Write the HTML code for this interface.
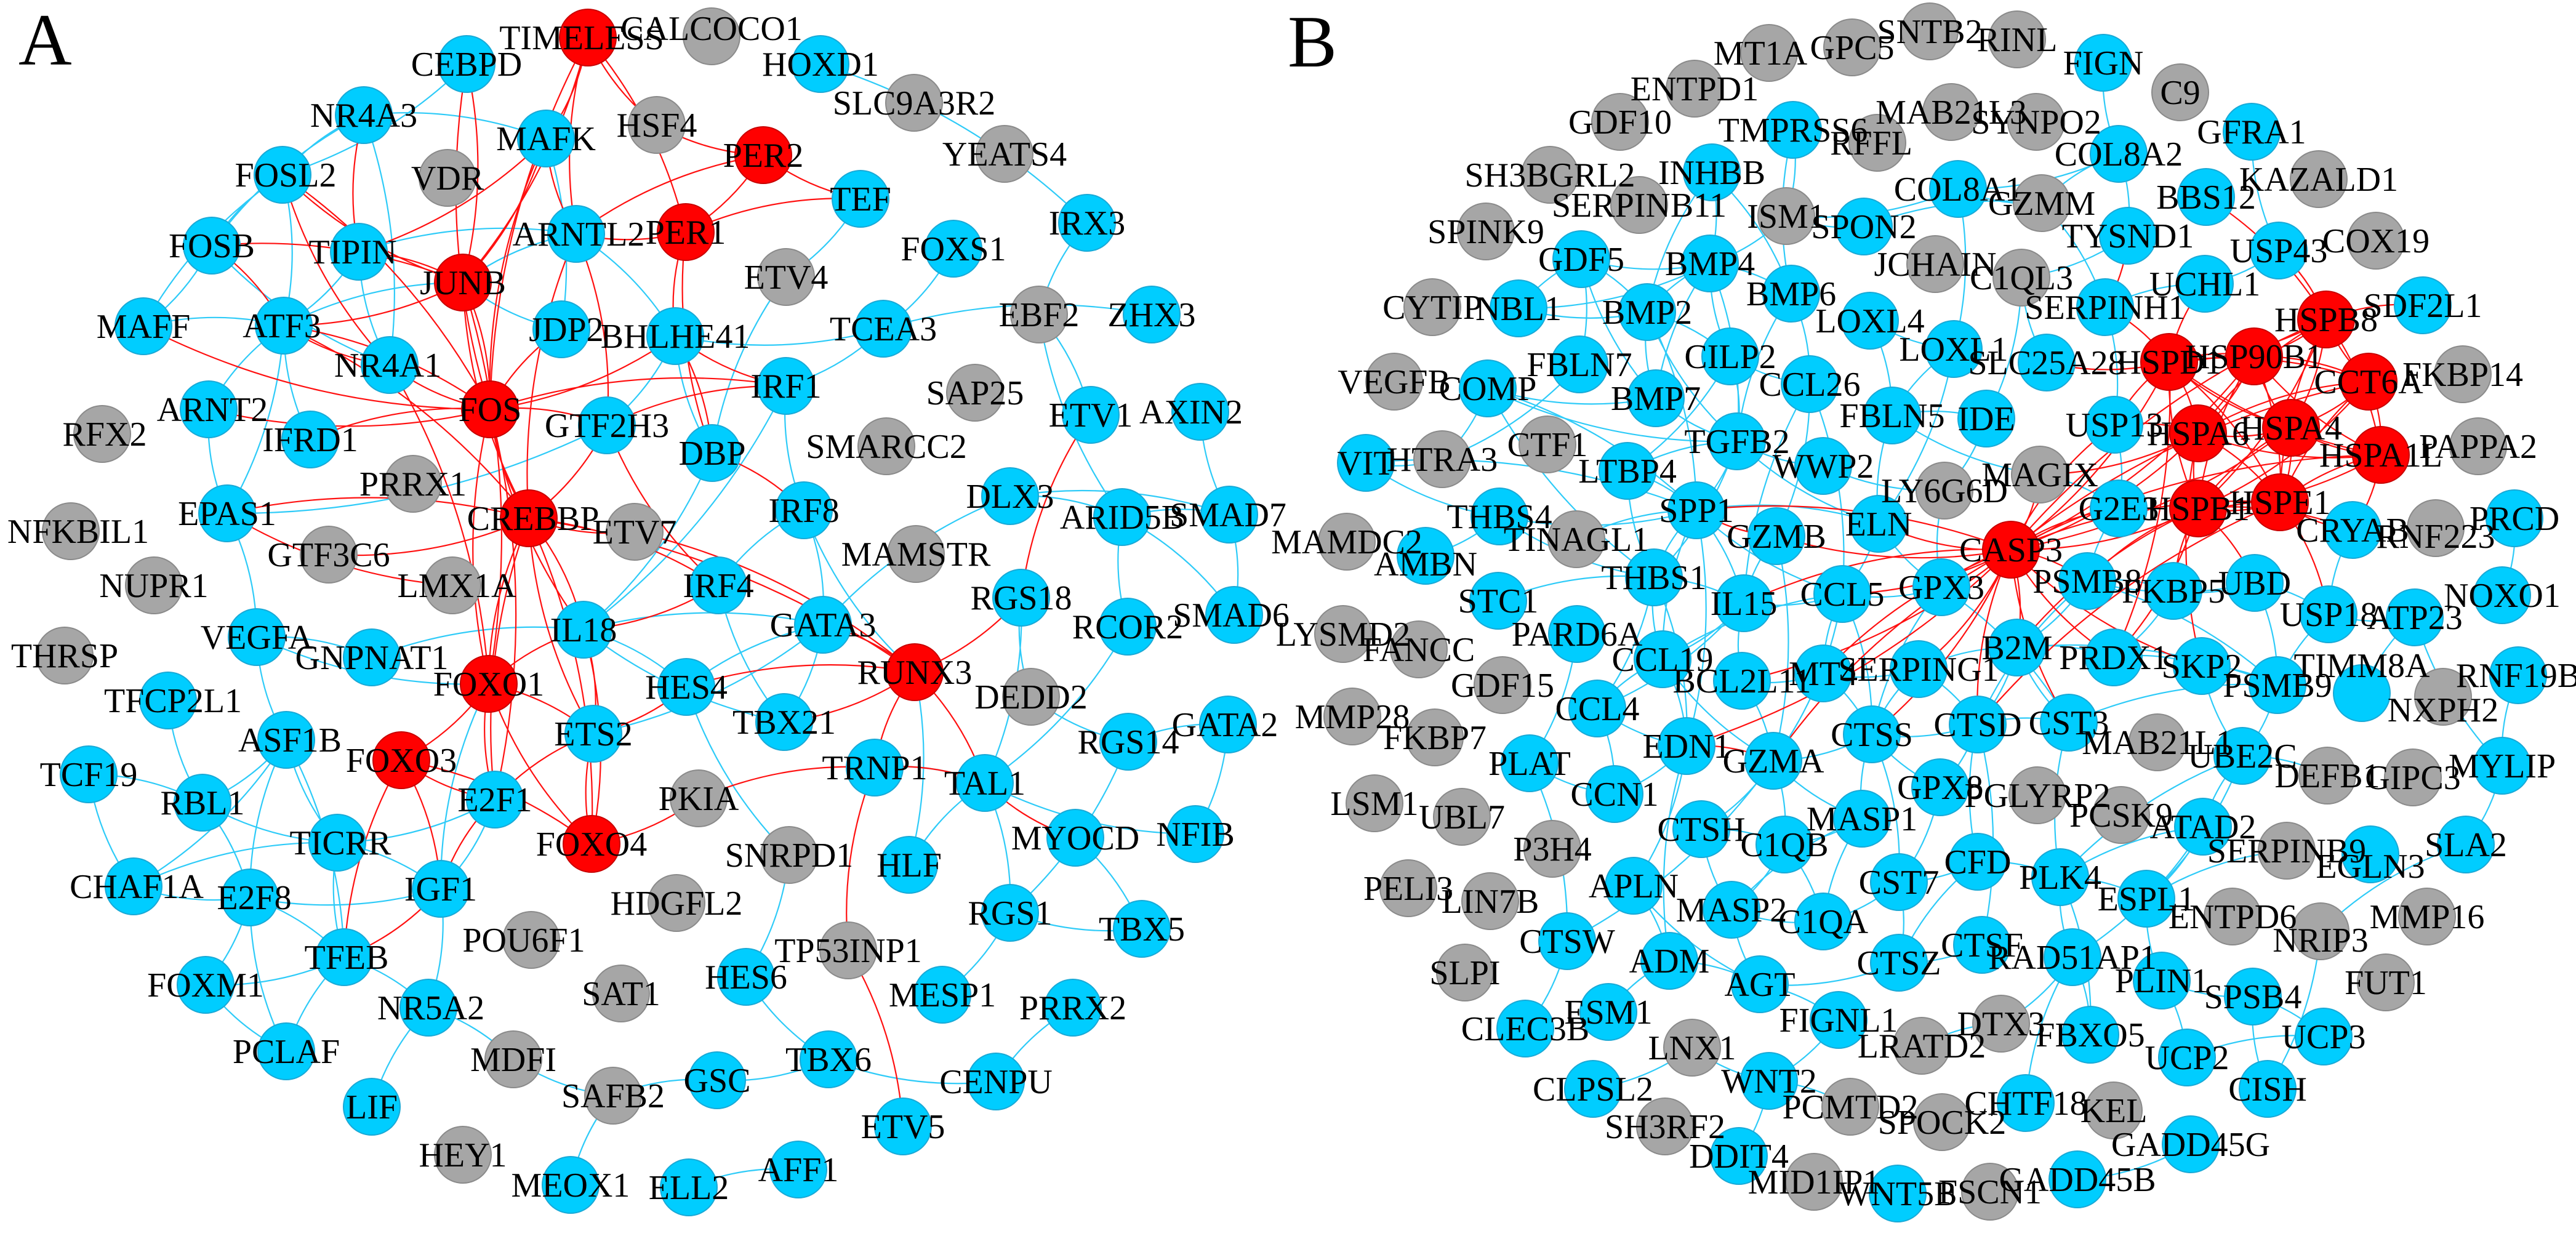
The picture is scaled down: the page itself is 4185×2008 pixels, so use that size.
<!DOCTYPE html>
<html><head><meta charset="utf-8"><style>
html,body{margin:0;padding:0;background:#fff;width:4185px;height:2008px;overflow:hidden}
svg{display:block}
svg text{font-family:"Liberation Serif","Times New Roman","DejaVu Serif",serif;font-size:56px;fill:#000;text-anchor:middle}
circle.b{fill:#00CDFF;stroke:#19a9d6;stroke-width:2}
circle.r{fill:#FF0000;stroke:#c80000;stroke-width:2}
circle.g{fill:#A6A6A6;stroke:#8a8a8a;stroke-width:2}
path.eb{stroke:#2ECBF8;stroke-width:2.2;fill:none}
path.er{stroke:#FF1010;stroke-width:2.2;fill:none}
svg text.big{font-size:120px;text-anchor:start}
</style></head><body>
<svg id="s" width="4185" height="2008" viewBox="0 0 4185 2008" xmlns="http://www.w3.org/2000/svg" font-family="Liberation Serif, serif">
<g id="edges"></g>
<g id="nodes">
<circle id="TIMELESS" class="r" cx="955" cy="61" r="46"/>
<circle id="CEBPD" class="b" cx="758" cy="104" r="46"/>
<circle id="NR4A3" class="b" cx="591" cy="187" r="46"/>
<circle id="MAFK" class="b" cx="887" cy="225" r="46"/>
<circle id="VDR" class="g" cx="727" cy="289" r="46"/>
<circle id="FOSL2" class="b" cx="459" cy="284" r="46"/>
<circle id="FOSB" class="b" cx="344" cy="399" r="46"/>
<circle id="ARNTL2" class="b" cx="936" cy="380" r="46"/>
<circle id="TIPIN" class="b" cx="583" cy="409" r="46"/>
<circle id="JUNB" class="r" cx="752" cy="459" r="46"/>
<circle id="MAFF" class="b" cx="233" cy="530" r="46"/>
<circle id="ATF3" class="b" cx="461" cy="529" r="46"/>
<circle id="JDP2" class="b" cx="912" cy="535" r="46"/>
<circle id="NR4A1" class="b" cx="633" cy="593" r="46"/>
<circle id="ARNT2" class="b" cx="339" cy="665" r="46"/>
<circle id="FOS" class="r" cx="796" cy="665" r="46"/>
<circle id="IFRD1" class="b" cx="504" cy="714" r="46"/>
<circle id="RFX2" class="g" cx="166" cy="705" r="46"/>
<circle id="PRRX1" class="g" cx="671" cy="786" r="46"/>
<circle id="EPAS1" class="b" cx="369" cy="834" r="46"/>
<circle id="NFKBIL1" class="g" cx="115" cy="863" r="46"/>
<circle id="CREBBP" class="r" cx="859" cy="842" r="46"/>
<circle id="GTF3C6" class="g" cx="534" cy="901" r="46"/>
<circle id="NUPR1" class="g" cx="250" cy="951" r="46"/>
<circle id="LMX1A" class="g" cx="735" cy="951" r="46"/>
<circle id="GTF2H3" class="b" cx="986" cy="691" r="46"/>
<circle id="CALCOCO1" class="g" cx="1156" cy="59" r="46"/>
<circle id="HOXD1" class="b" cx="1333" cy="104" r="46"/>
<circle id="SLC9A3R2" class="g" cx="1485" cy="167" r="46"/>
<circle id="HSF4" class="g" cx="1067" cy="203" r="46"/>
<circle id="YEATS4" class="g" cx="1632" cy="250" r="46"/>
<circle id="PER2" class="r" cx="1240" cy="252" r="46"/>
<circle id="TEF" class="b" cx="1398" cy="323" r="46"/>
<circle id="PER1" class="r" cx="1114" cy="377" r="46"/>
<circle id="IRX3" class="b" cx="1766" cy="362" r="46"/>
<circle id="FOXS1" class="b" cx="1549" cy="404" r="46"/>
<circle id="ETV4" class="g" cx="1277" cy="450" r="46"/>
<circle id="BHLHE41" class="b" cx="1097" cy="546" r="46"/>
<circle id="TCEA3" class="b" cx="1435" cy="534" r="46"/>
<circle id="EBF2" class="g" cx="1688" cy="511" r="46"/>
<circle id="ZHX3" class="b" cx="1871" cy="511" r="46"/>
<circle id="IRF1" class="b" cx="1277" cy="627" r="46"/>
<circle id="SAP25" class="g" cx="1584" cy="638" r="46"/>
<circle id="ETV1" class="b" cx="1772" cy="674" r="46"/>
<circle id="AXIN2" class="b" cx="1950" cy="669" r="46"/>
<circle id="SMARCC2" class="g" cx="1440" cy="725" r="46"/>
<circle id="DBP" class="b" cx="1157" cy="736" r="46"/>
<circle id="DLX3" class="b" cx="1641" cy="806" r="46"/>
<circle id="IRF8" class="b" cx="1306" cy="829" r="46"/>
<circle id="ARID5B" class="b" cx="1823" cy="840" r="46"/>
<circle id="SMAD7" class="b" cx="1997" cy="836" r="46"/>
<circle id="ETV7" class="g" cx="1031" cy="864" r="46"/>
<circle id="MAMSTR" class="g" cx="1488" cy="900" r="46"/>
<circle id="IRF4" class="b" cx="1167" cy="951" r="46"/>
<circle id="RGS18" class="b" cx="1659" cy="971" r="46"/>
<circle id="SMAD6" class="b" cx="2005" cy="999" r="46"/>
<circle id="IL18" class="b" cx="948" cy="1023" r="46"/>
<circle id="GATA3" class="b" cx="1337" cy="1015" r="46"/>
<circle id="RCOR2" class="b" cx="1832" cy="1018" r="46"/>
<circle id="RUNX3" class="r" cx="1486" cy="1092" r="46"/>
<circle id="DEDD2" class="g" cx="1675" cy="1132" r="46"/>
<circle id="HES4" class="b" cx="1115" cy="1116" r="46"/>
<circle id="TBX21" class="b" cx="1274" cy="1173" r="46"/>
<circle id="ETS2" class="b" cx="964" cy="1192" r="46"/>
<circle id="RGS14" class="b" cx="1833" cy="1205" r="46"/>
<circle id="GATA2" class="b" cx="1995" cy="1177" r="46"/>
<circle id="TRNP1" class="b" cx="1421" cy="1247" r="46"/>
<circle id="TAL1" class="b" cx="1600" cy="1272" r="46"/>
<circle id="PKIA" class="g" cx="1135" cy="1297" r="46"/>
<circle id="FOXO4" class="r" cx="961" cy="1371" r="46"/>
<circle id="MYOCD" class="b" cx="1747" cy="1361" r="46"/>
<circle id="NFIB" class="b" cx="1942" cy="1355" r="46"/>
<circle id="SNRPD1" class="g" cx="1282" cy="1389" r="46"/>
<circle id="HLF" class="b" cx="1477" cy="1405" r="46"/>
<circle id="HDGFL2" class="g" cx="1099" cy="1467" r="46"/>
<circle id="RGS1" class="b" cx="1641" cy="1483" r="46"/>
<circle id="TBX5" class="b" cx="1855" cy="1509" r="46"/>
<circle id="TP53INP1" class="g" cx="1378" cy="1544" r="46"/>
<circle id="SAT1" class="g" cx="1009" cy="1614" r="46"/>
<circle id="HES6" class="b" cx="1212" cy="1587" r="46"/>
<circle id="MESP1" class="b" cx="1531" cy="1616" r="46"/>
<circle id="PRRX2" class="b" cx="1743" cy="1637" r="46"/>
<circle id="TBX6" class="b" cx="1346" cy="1721" r="46"/>
<circle id="GSC" class="b" cx="1165" cy="1755" r="46"/>
<circle id="SAFB2" class="g" cx="996" cy="1780" r="46"/>
<circle id="CENPU" class="b" cx="1618" cy="1757" r="46"/>
<circle id="ETV5" class="b" cx="1467" cy="1830" r="46"/>
<circle id="AFF1" class="b" cx="1297" cy="1900" r="46"/>
<circle id="ELL2" class="b" cx="1119" cy="1929" r="46"/>
<circle id="MEOX1" class="b" cx="927" cy="1925" r="46"/>
<circle id="THRSP" class="g" cx="105" cy="1065" r="46"/>
<circle id="VEGFA" class="b" cx="417" cy="1035" r="46"/>
<circle id="GNPNAT1" class="b" cx="604" cy="1068" r="46"/>
<circle id="FOXO1" class="r" cx="794" cy="1111" r="46"/>
<circle id="TFCP2L1" class="b" cx="273" cy="1138" r="46"/>
<circle id="ASF1B" class="b" cx="465" cy="1202" r="46"/>
<circle id="TCF19" class="b" cx="144" cy="1258" r="46"/>
<circle id="FOXO3" class="r" cx="652" cy="1235" r="46"/>
<circle id="RBL1" class="b" cx="329" cy="1304" r="46"/>
<circle id="E2F1" class="b" cx="804" cy="1299" r="46"/>
<circle id="TICRR" class="b" cx="548" cy="1369" r="46"/>
<circle id="CHAF1A" class="b" cx="217" cy="1440" r="46"/>
<circle id="E2F8" class="b" cx="406" cy="1458" r="46"/>
<circle id="IGF1" class="b" cx="716" cy="1444" r="46"/>
<circle id="POU6F1" class="g" cx="863" cy="1527" r="46"/>
<circle id="TFEB" class="b" cx="559" cy="1555" r="46"/>
<circle id="FOXM1" class="b" cx="334" cy="1600" r="46"/>
<circle id="NR5A2" class="b" cx="696" cy="1637" r="46"/>
<circle id="PCLAF" class="b" cx="465" cy="1708" r="46"/>
<circle id="MDFI" class="g" cx="834" cy="1721" r="46"/>
<circle id="LIF" class="b" cx="604" cy="1798" r="46"/>
<circle id="HEY1" class="g" cx="752" cy="1876" r="46"/>

<circle id="MT1A" class="g" cx="2874" cy="86" r="46"/>
<circle id="GPC5" class="g" cx="3009" cy="77" r="46"/>
<circle id="ENTPD1" class="g" cx="2753" cy="144" r="46"/>
<circle id="GDF10" class="g" cx="2632" cy="198" r="46"/>
<circle id="TMPRSS6" class="b" cx="2913" cy="211" r="46"/>
<circle id="RFFL" class="g" cx="3050" cy="232" r="46"/>
<circle id="SH3BGRL2" class="g" cx="2518" cy="284" r="46"/>
<circle id="INHBB" class="b" cx="2781" cy="280" r="46"/>
<circle id="SERPINB11" class="g" cx="2663" cy="333" r="46"/>
<circle id="ISM1" class="g" cx="2902" cy="351" r="46"/>
<circle id="SPINK9" class="g" cx="2414" cy="376" r="46"/>
<circle id="GDF5" class="b" cx="2569" cy="421" r="46"/>
<circle id="BMP4" class="b" cx="2778" cy="428" r="46"/>
<circle id="BMP6" class="b" cx="2910" cy="477" r="46"/>
<circle id="CYTIP" class="g" cx="2327" cy="499" r="46"/>
<circle id="NBL1" class="b" cx="2467" cy="501" r="46"/>
<circle id="BMP2" class="b" cx="2676" cy="507" r="46"/>
<circle id="CILP2" class="b" cx="2811" cy="579" r="46"/>
<circle id="FBLN7" class="b" cx="2566" cy="592" r="46"/>
<circle id="CCL26" class="b" cx="2940" cy="624" r="46"/>
<circle id="VEGFB" class="g" cx="2265" cy="620" r="46"/>
<circle id="COMP" class="b" cx="2417" cy="631" r="46"/>
<circle id="BMP7" class="b" cx="2690" cy="647" r="46"/>
<circle id="TGFB2" class="b" cx="2822" cy="717" r="46"/>
<circle id="CTF1" class="g" cx="2514" cy="722" r="46"/>
<circle id="VIT" class="b" cx="2219" cy="752" r="46"/>
<circle id="HTRA3" class="g" cx="2343" cy="746" r="46"/>
<circle id="WWP2" class="b" cx="2962" cy="757" r="46"/>
<circle id="LTBP4" class="b" cx="2644" cy="765" r="46"/>
<circle id="SPP1" class="b" cx="2756" cy="829" r="46"/>
<circle id="THBS4" class="b" cx="2436" cy="839" r="46"/>
<circle id="GZMB" class="b" cx="2886" cy="871" r="46"/>
<circle id="TINAGL1" class="g" cx="2561" cy="876" r="46"/>
<circle id="MAMDC2" class="g" cx="2188" cy="880" r="46"/>
<circle id="AMBN" class="b" cx="2316" cy="903" r="46"/>
<circle id="THBS1" class="b" cx="2687" cy="938" r="46"/>
<circle id="IL15" class="b" cx="2833" cy="980" r="46"/>
<circle id="STC1" class="b" cx="2434" cy="976" r="46"/>
<circle id="CCL5" class="b" cx="2993" cy="965" r="46"/>
<circle id="LYSMD2" class="g" cx="2182" cy="1030" r="46"/>
<circle id="PARD6A" class="b" cx="2562" cy="1030" r="46"/>
<circle id="FANCC" class="g" cx="2305" cy="1055" r="46"/>
<circle id="CCL19" class="b" cx="2701" cy="1071" r="46"/>
<circle id="GDF15" class="g" cx="2441" cy="1113" r="46"/>
<circle id="BCL2L11" class="b" cx="2830" cy="1106" r="46"/>
<circle id="MT4" class="b" cx="2962" cy="1094" r="46"/>
<circle id="MMP28" class="g" cx="2197" cy="1164" r="46"/>
<circle id="CCL4" class="b" cx="2595" cy="1151" r="46"/>
<circle id="FKBP7" class="g" cx="2331" cy="1198" r="46"/>
<circle id="EDN1" class="b" cx="2740" cy="1212" r="46"/>
<circle id="PLAT" class="b" cx="2485" cy="1240" r="46"/>
<circle id="GZMA" class="b" cx="2881" cy="1236" r="46"/>
<circle id="CCN1" class="b" cx="2623" cy="1290" r="46"/>
<circle id="LSM1" class="g" cx="2233" cy="1305" r="46"/>
<circle id="UBL7" class="g" cx="2375" cy="1327" r="46"/>
<circle id="CTSH" class="b" cx="2764" cy="1347" r="46"/>
<circle id="C1QB" class="b" cx="2899" cy="1372" r="46"/>
<circle id="P3H4" class="g" cx="2522" cy="1379" r="46"/>
<circle id="PELI3" class="g" cx="2288" cy="1443" r="46"/>
<circle id="APLN" class="b" cx="2654" cy="1439" r="46"/>
<circle id="LIN7B" class="g" cx="2421" cy="1464" r="46"/>
<circle id="MASP2" class="b" cx="2813" cy="1478" r="46"/>
<circle id="C1QA" class="b" cx="2962" cy="1497" r="46"/>
<circle id="MASP1" class="b" cx="3025" cy="1330" r="46"/>
<circle id="CTSW" class="b" cx="2546" cy="1529" r="46"/>
<circle id="SLPI" class="g" cx="2380" cy="1580" r="46"/>
<circle id="ADM" class="b" cx="2712" cy="1561" r="46"/>
<circle id="AGT" class="b" cx="2859" cy="1599" r="46"/>
<circle id="ESM1" class="b" cx="2613" cy="1644" r="46"/>
<circle id="CLEC3B" class="b" cx="2478" cy="1671" r="46"/>
<circle id="FIGNL1" class="b" cx="2987" cy="1657" r="46"/>
<circle id="LNX1" class="g" cx="2749" cy="1702" r="46"/>
<circle id="WNT2" class="b" cx="2874" cy="1756" r="46"/>
<circle id="CLPSL2" class="b" cx="2588" cy="1769" r="46"/>
<circle id="PCMTD2" class="g" cx="3006" cy="1798" r="46"/>
<circle id="SH3RF2" class="g" cx="2705" cy="1830" r="46"/>
<circle id="DDIT4" class="b" cx="2825" cy="1878" r="46"/>
<circle id="MID1IP1" class="g" cx="2947" cy="1920" r="46"/>
<circle id="SNTB2" class="g" cx="3135" cy="51" r="46"/>
<circle id="RINL" class="g" cx="3277" cy="64" r="46"/>
<circle id="FIGN" class="b" cx="3417" cy="102" r="46"/>
<circle id="C9" class="g" cx="3542" cy="150" r="46"/>
<circle id="MAB21L3" class="g" cx="3170" cy="182" r="46"/>
<circle id="SYNPO2" class="g" cx="3308" cy="198" r="46"/>
<circle id="GFRA1" class="b" cx="3658" cy="214" r="46"/>
<circle id="COL8A2" class="b" cx="3442" cy="250" r="46"/>
<circle id="COL8A1" class="b" cx="3181" cy="307" r="46"/>
<circle id="GZMM" class="g" cx="3317" cy="330" r="46"/>
<circle id="KAZALD1" class="g" cx="3767" cy="291" r="46"/>
<circle id="BBS12" class="b" cx="3584" cy="320" r="46"/>
<circle id="TYSND1" class="b" cx="3457" cy="383" r="46"/>
<circle id="COX19" class="g" cx="3860" cy="391" r="46"/>
<circle id="USP43" class="b" cx="3702" cy="407" r="46"/>
<circle id="SPON2" class="b" cx="3028" cy="368" r="46"/>
<circle id="JCHAIN" class="g" cx="3144" cy="429" r="46"/>
<circle id="C1QL3" class="g" cx="3284" cy="451" r="46"/>
<circle id="UCHL1" class="b" cx="3582" cy="461" r="46"/>
<circle id="SERPINH1" class="b" cx="3420" cy="499" r="46"/>
<circle id="SDF2L1" class="b" cx="3936" cy="496" r="46"/>
<circle id="LOXL4" class="b" cx="3038" cy="521" r="46"/>
<circle id="LOXL1" class="b" cx="3174" cy="567" r="46"/>
<circle id="SLC25A28" class="b" cx="3325" cy="589" r="46"/>
<circle id="FKBP14" class="g" cx="4001" cy="608" r="46"/>
<circle id="FBLN5" class="b" cx="3074" cy="675" r="46"/>
<circle id="IDE" class="b" cx="3227" cy="680" r="46"/>
<circle id="USP13" class="b" cx="3435" cy="690" r="46"/>
<circle id="PAPPA2" class="g" cx="4026" cy="725" r="46"/>
<circle id="MAGIX" class="g" cx="3314" cy="771" r="46"/>
<circle id="LY6G6D" class="g" cx="3159" cy="797" r="46"/>
<circle id="G2E3" class="b" cx="3442" cy="826" r="46"/>
<circle id="CRYAB" class="b" cx="3822" cy="861" r="46"/>
<circle id="RNF223" class="g" cx="3957" cy="858" r="46"/>
<circle id="PRCD" class="b" cx="4085" cy="842" r="46"/>
<circle id="ELN" class="b" cx="3052" cy="851" r="46"/>
<circle id="GPX3" class="b" cx="3154" cy="954" r="46"/>
<circle id="PSMB8" class="b" cx="3391" cy="944" r="46"/>
<circle id="FKBP5" class="b" cx="3531" cy="960" r="46"/>
<circle id="UBD" class="b" cx="3663" cy="947" r="46"/>
<circle id="NOXO1" class="b" cx="4065" cy="967" r="46"/>
<circle id="USP18" class="b" cx="3783" cy="998" r="46"/>
<circle id="ATP23" class="b" cx="3923" cy="1003" r="46"/>
<circle id="B2M" class="b" cx="3277" cy="1052" r="46"/>
<circle id="SERPING1" class="b" cx="3117" cy="1087" r="46"/>
<circle id="PRDX1" class="b" cx="3434" cy="1068" r="46"/>
<circle id="SKP2" class="b" cx="3577" cy="1082" r="46"/>
<circle id="PSMB9" class="b" cx="3700" cy="1113" r="46"/>
<circle id="TIMM8A" class="b" cx="3837" cy="1126" r="46"/>
<circle id="NXPH2" class="g" cx="3969" cy="1132" r="46"/>
<circle id="RNF19B" class="b" cx="4091" cy="1097" r="46"/>
<circle id="CTSS" class="b" cx="3041" cy="1193" r="46"/>
<circle id="CTSD" class="b" cx="3213" cy="1177" r="46"/>
<circle id="CST3" class="b" cx="3361" cy="1174" r="46"/>
<circle id="MAB21L1" class="g" cx="3505" cy="1206" r="46"/>
<circle id="UBE2C" class="b" cx="3643" cy="1228" r="46"/>
<circle id="DEFB1" class="g" cx="3781" cy="1260" r="46"/>
<circle id="GIPC3" class="g" cx="3920" cy="1263" r="46"/>
<circle id="MYLIP" class="b" cx="4065" cy="1244" r="46"/>
<circle id="GPX8" class="b" cx="3152" cy="1279" r="46"/>
<circle id="PGLYRP2" class="g" cx="3310" cy="1292" r="46"/>
<circle id="PCSK9" class="g" cx="3446" cy="1324" r="46"/>
<circle id="ATAD2" class="b" cx="3579" cy="1343" r="46"/>
<circle id="SERPINB9" class="g" cx="3715" cy="1382" r="46"/>
<circle id="EGLN3" class="b" cx="3851" cy="1388" r="46"/>
<circle id="SLA2" class="b" cx="4006" cy="1372" r="46"/>
<circle id="CFD" class="b" cx="3213" cy="1400" r="46"/>
<circle id="PLK4" class="b" cx="3347" cy="1425" r="46"/>
<circle id="CST7" class="b" cx="3085" cy="1433" r="46"/>
<circle id="ESPL1" class="b" cx="3487" cy="1460" r="46"/>
<circle id="ENTPD6" class="g" cx="3627" cy="1489" r="46"/>
<circle id="MMP16" class="g" cx="3943" cy="1489" r="46"/>
<circle id="NRIP3" class="g" cx="3770" cy="1513" r="46"/>
<circle id="CTSF" class="b" cx="3220" cy="1535" r="46"/>
<circle id="RAD51AP1" class="b" cx="3367" cy="1555" r="46"/>
<circle id="CTSZ" class="b" cx="3085" cy="1564" r="46"/>
<circle id="FUT1" class="g" cx="3876" cy="1596" r="46"/>
<circle id="PLIN1" class="b" cx="3512" cy="1593" r="46"/>
<circle id="SPSB4" class="b" cx="3660" cy="1619" r="46"/>
<circle id="LRATD2" class="g" cx="3122" cy="1699" r="46"/>
<circle id="DTX3" class="g" cx="3251" cy="1663" r="46"/>
<circle id="FBXO5" class="b" cx="3396" cy="1681" r="46"/>
<circle id="UCP3" class="b" cx="3775" cy="1684" r="46"/>
<circle id="UCP2" class="b" cx="3553" cy="1718" r="46"/>
<circle id="CISH" class="b" cx="3684" cy="1769" r="46"/>
<circle id="CHTF18" class="b" cx="3291" cy="1792" r="46"/>
<circle id="KEL" class="g" cx="3434" cy="1804" r="46"/>
<circle id="SPOCK2" class="g" cx="3155" cy="1823" r="46"/>
<circle id="GADD45G" class="b" cx="3559" cy="1859" r="46"/>
<circle id="GADD45B" class="b" cx="3375" cy="1916" r="46"/>
<circle id="FSCN1" class="g" cx="3233" cy="1936" r="46"/>
<circle id="WNT5B" class="b" cx="3083" cy="1939" r="46"/>
<circle id="HSPB8" class="r" cx="3779" cy="519" r="46"/>
<circle id="HSPD1" class="r" cx="3524" cy="588" r="46"/>
<circle id="HSP90B1" class="r" cx="3662" cy="579" r="46"/>
<circle id="CCT6A" class="r" cx="3848" cy="620" r="46"/>
<circle id="HSPA6" class="r" cx="3571" cy="704" r="46"/>
<circle id="HSPA4" class="r" cx="3722" cy="695" r="46"/>
<circle id="HSPA1L" class="r" cx="3868" cy="739" r="46"/>
<circle id="HSPB1" class="r" cx="3571" cy="826" r="46"/>
<circle id="HSPE1" class="r" cx="3704" cy="816" r="46"/>
<circle id="CASP3" class="r" cx="3267" cy="893" r="46"/>
</g>
<text class="big" x="30" y="105">A</text>
<text class="big" x="2092" y="108">B</text>
</svg>
<script>
(function(){
var NS="http://www.w3.org/2000/svg";
function P(id){var c=document.getElementById(id);return c?[+c.getAttribute("cx"),+c.getAttribute("cy")]:null;}
var R="TIMELESS MAFK,TIMELESS HSF4,TIMELESS PER1,TIMELESS ARNTL2,TIMELESS JUNB,TIMELESS FOS,CEBPD JUNB,CEBPD FOS,MAFK JUNB,MAFK FOS,MAFK TIPIN,MAFK ARNTL2,PER2 PER1,PER2 TEF,PER2 HSF4,PER2 ARNTL2,PER1 TEF,PER1 BHLHE41,PER1 ARNTL2,PER1 DBP,ARNTL2 GTF2H3,ARNTL2 CREBBP,JUNB FOS,JUNB FOSB,JUNB FOSL2,JUNB TIPIN,JUNB ATF3,JUNB CREBBP,JUNB FOXO1,NR4A3 TIPIN,FOSL2 FOS,FOSL2 NR4A1,FOSB ATF3,MAFF FOS,ATF3 FOS,ATF3 NR4A1,ATF3 CREBBP,NR4A1 FOS,NR4A1 FOXO1,ARNT2 FOS,IFRD1 FOS,FOS CREBBP,FOS GTF2H3,FOS BHLHE41,FOS IRF1,FOS FOXO1,FOS E2F1,FOS IL18,FOS JDP2,CREBBP EPAS1,CREBBP GTF3C6,CREBBP FOXO1,CREBBP IL18,CREBBP ETS2,CREBBP IRF4,CREBBP ETV7,CREBBP FOXO4,CREBBP E2F1,CREBBP RUNX3,CREBBP GTF2H3,GTF2H3 IRF1,GTF2H3 IRF4,BHLHE41 DBP,BHLHE41 IRF1,DBP IRF8,EPAS1 LMX1A,FOXO1 FOXO3,FOXO1 E2F1,FOXO1 ETS2,FOXO1 FOXO4,FOXO1 IL18,FOXO3 E2F1,FOXO3 IGF1,FOXO3 TFEB,FOXO3 FOXO4,E2F1 IGF1,IGF1 TFEB,FOXO4 PKIA,FOXO4 ETS2,FOXO4 IL18,IL18 ETS2,IL18 IRF4,HES4 RUNX3,RUNX3 GATA3,RUNX3 TBX21,RUNX3 TRNP1,RUNX3 TAL1,RUNX3 RGS18,ETV7 RUNX3,TRNP1 PKIA,TRNP1 TAL1,TRNP1 TP53INP1,TP53INP1 ETV5,TAL1 MYOCD,RGS18 ETV1,ETS2 HES4,E2F1 ETS2,"+
"HSPD1 SERPINH1,HSPD1 SLC25A28,HSPD1 USP13,HSPD1 UCHL1,HSPB8 BBS12,HSPB8 SDF2L1,HSPB8 USP43,HSPB1 CRYAB,HSPE1 CRYAB,HSPA1L CRYAB,HSPB1 FKBP5,HSPB1 UBD,HSPB1 PSMB8,HSPE1 USP18,HSPA6 USP13,HSPA6 MAGIX,CASP3 MAGIX,CASP3 USP13,CASP3 GPX3,CASP3 CCL5,CASP3 IL15,CASP3 CTSS,CASP3 CTSD,CASP3 B2M,CASP3 PRDX1,CASP3 SERPING1,CASP3 MT4,CASP3 BCL2L11,CASP3 SPP1,CASP3 GZMB,CASP3 GZMA,CASP3 EDN1,CASP3 CST3,CASP3 PSMB8,CASP3 SKP2,CASP3 G2E3,SERPINH1 TYSND1,EDN1 GZMA,SPP1 GZMB,HSPD1 PRDX1,HSPA6 SKP2,HSPB1 PRDX1,HSPE1 CTSD,CASP3 ELN,HSPB1 B2M";
var H=["HSPD1","HSP90B1","HSPB8","CCT6A","HSPA4","HSPA6","HSPA1L","HSPE1","HSPB1","CASP3"];
for(var i=0;i<H.length;i++)for(var j=i+1;j<H.length;j++)R+=","+H[i]+" "+H[j];
var B="CEBPD FOSL2,NR4A3 FOSL2,NR4A3 MAFK,NR4A3 FOSB,NR4A3 NR4A1,FOSL2 FOSB,FOSL2 ATF3,FOSL2 MAFF,FOSB MAFF,FOSB NR4A1,MAFF ATF3,ATF3 TIPIN,ATF3 JUNB,ATF3 ARNT2,ATF3 EPAS1,ATF3 IFRD1,TIPIN ARNTL2,TIPIN NR4A1,JUNB ARNTL2,JUNB JDP2,MAFK JDP2,ARNT2 EPAS1,EPAS1 VEGFA,EPAS1 GTF2H3,ARNTL2 BHLHE41,BHLHE41 TCEA3,BHLHE41 GTF2H3,BHLHE41 DBP,TEF ETV4,ETV4 DBP,HOXD1 IRX3,IRX3 EBF2,EBF2 ETV1,EBF2 ARID5B,TCEA3 ZHX3,TCEA3 FOXS1,TCEA3 IRF1,IRF1 IRF8,IRF1 IL18,IRF8 IRF4,IRF8 GATA3,IRF8 RUNX3,DBP IL18,IRF4 TBX21,DLX3 ARID5B,DLX3 GATA3,DLX3 SMAD7,ARID5B RCOR2,ARID5B SMAD7,GATA3 HES4,GATA3 TBX21,GATA3 IL18,GATA3 RUNX3,IL18 TBX21,IL18 HES4,ETS2 GATA3,RGS18 TAL1,RGS18 DEDD2,RCOR2 TAL1,DEDD2 RGS14,RGS14 RGS1,TAL1 HLF,TAL1 RGS1,TAL1 TRNP1,RUNX3 HLF,TAL1 NFIB,MYOCD TBX5,RGS1 TBX5,RGS1 MESP1,HES4 SNRPD1,SNRPD1 HES6,HES6 TBX6,TBX6 GSC,TBX6 CENPU,CENPU PRRX2,GSC SAFB2,SAFB2 MDFI,SAFB2 MEOX1,ELL2 AFF1,VEGFA ASF1B,VEGFA GNPNAT1,VEGFA FOXO1,GNPNAT1 IL18,TFCP2L1 RBL1,TCF19 RBL1,TCF19 CHAF1A,ASF1B RBL1,ASF1B TICRR,ASF1B CHAF1A,ASF1B E2F8,ASF1B TFEB,RBL1 TICRR,RBL1 E2F8,CHAF1A E2F8,CHAF1A TICRR,E2F8 IGF1,E2F8 FOXM1,E2F8 PCLAF,E2F8 TFEB,TICRR E2F1,TICRR IGF1,TICRR TFEB,TFEB FOXM1,TFEB PCLAF,TFEB NR5A2,FOXM1 PCLAF,IGF1 NR5A2,IGF1 E2F1,IGF1 FOXO1,NR5A2 LIF,NR5A2 MDFI,AXIN2 SMAD7,SMAD7 SMAD6,SMAD6 ARID5B,GATA2 NFIB,GATA2 RGS14,"+
"INHBB BMP4,INHBB BMP2,INHBB BMP6,TMPRSS6 BMP6,TMPRSS6 ISM1,ISM1 SPON2,ISM1 BMP4,ISM1 COL8A1,SPON2 GZMM,COL8A1 COL8A2,COL8A1 LOXL1,COL8A1 GZMM,COL8A2 FIGN,COL8A2 GZMM,COL8A2 TYSND1,GFRA1 USP43,USP43 UCHL1,UCHL1 SERPINH1,TYSND1 C1QL3,SERPINH1 GZMM,C1QL3 IDE,LOXL4 LOXL1,LOXL4 FBLN5,LOXL1 FBLN5,LOXL1 ELN,FBLN5 ELN,FBLN5 IDE,FBLN5 MAGIX,IDE LY6G6D,LY6G6D GPX3,BMP4 GDF5,BMP4 BMP2,BMP4 BMP6,BMP4 BMP7,BMP4 NBL1,BMP4 CILP2,BMP4 TGFB2,BMP2 GDF5,BMP2 NBL1,BMP2 BMP7,BMP2 CILP2,BMP2 TGFB2,BMP2 SPP1,BMP6 TGFB2,BMP6 CCL26,GDF5 NBL1,GDF5 FBLN7,GDF5 BMP7,BMP7 COMP,BMP7 TGFB2,COMP HTRA3,COMP TGFB2,COMP SPP1,COMP THBS1,FBLN7 HTRA3,VIT HTRA3,VIT SPP1,VIT THBS4,CILP2 TGFB2,CILP2 CCL26,CILP2 LTBP4,TGFB2 LTBP4,TGFB2 SPP1,TGFB2 WWP2,TGFB2 THBS1,TGFB2 ELN,LTBP4 SPP1,LTBP4 THBS1,SPP1 THBS4,SPP1 THBS1,SPP1 IL15,SPP1 CCL19,SPP1 EDN1,SPP1 TINAGL1,SPP1 ELN,SPP1 CCL5,THBS4 AMBN,THBS4 THBS1,CCL26 CCL5,CCL26 IL15,CCL26 GZMB,WWP2 LY6G6D,GZMB GZMA,GZMB IL15,ELN CCL5,ELN GPX3,THBS1 IL15,THBS1 CCL19,THBS1 CCL4,THBS1 STC1,THBS1 EDN1,IL15 CCL5,IL15 CCL19,IL15 BCL2L11,IL15 CCL4,CCL5 CCL19,CCL5 GZMA,CCL5 MT4,CCL5 CTSS,CCL5 GPX3,PARD6A PLAT,CCL19 CCL4,CCL19 EDN1,CCL19 GZMA,BCL2L11 GZMA,BCL2L11 MT4,MT4 CTSS,MT4 SERPING1,CCL4 CCN1,CCL4 EDN1,EDN1 CCN1,PLAT CCN1,EDN1 APLN,EDN1 ADM,GZMA CTSH,GZMA MASP1,GZMA C1QB,GZMA CTSS,CTSH C1QB,CTSH MASP2,C1QB C1QA,C1QB MASP1,C1QB MASP2,MASP2 C1QA,MASP2 MASP1,MASP2 AGT,C1QA MASP1,C1QA CST7,APLN ADM,APLN AGT,ADM AGT,ADM ESM1,AGT FIGNL1,AGT CTSZ,CTSW CLEC3B,CTSW GZMA,LNX1 CLPSL2,LNX1 WNT2,WNT2 DDIT4,WNT2 FIGNL1,WNT2 PCMTD2,CTSS CTSD,CTSS SERPING1,CTSS GPX8,CTSS CST7,CTSS MASP1,CTSD CST3,CTSD B2M,CTSD GPX8,CTSD CFD,CTSD CTSF,CTSD SERPING1,CTSD PSMB8,B2M SERPING1,B2M PRDX1,B2M PSMB8,B2M PSMB9,B2M CST3,PRDX1 SKP2,PRDX1 FKBP5,SKP2 PSMB9,SKP2 UBE2C,PSMB8 PSMB9,PSMB8 UBD,PSMB8 FKBP5,FKBP5 UBD,UBD PSMB9,USP18 PSMB9,TIMM8A ATP23,RNF19B MYLIP,MYLIP SLA2,SLA2 NRIP3,PSMB9 UBE2C,UBE2C ATAD2,UBE2C ESPL1,UBE2C PLK4,ATAD2 ESPL1,ATAD2 PLK4,ATAD2 RAD51AP1,ESPL1 PLK4,ESPL1 SERPINB9,PLK4 RAD51AP1,PLK4 FBXO5,PLK4 CFD,RAD51AP1 FBXO5,RAD51AP1 CHTF18,RAD51AP1 DTX3,ESPL1 PLIN1,PLIN1 UCP2,PLIN1 SPSB4,SPSB4 UCP3,SPSB4 CISH,UCP2 UCP3,CISH NRIP3,CST7 CTSZ,CTSZ CTSF,CFD CST7,CFD CTSZ,GPX8 CST7,DTX3 LRATD2,GADD45G GADD45B,CRYAB USP18,PRCD NOXO1,CTSW PLAT,USP13 G2E3,USP13 SERPINH1,MAGIX G2E3,G2E3 PSMB8,UBD USP18,USP18 ATP23,SLC25A28 C1QL3,GPX3 CTSS,GPX3 CST3,CST3 PLK4,CST3 PSMB9,ATP23 MYLIP,UBE2C DEFB1";
var g=document.getElementById("edges");
function draw(list,cls,bend){list.split(",").forEach(function(e,k){var p=e.trim().split(" ");var a=P(p[0]),b=P(p[1]);if(!a||!b)return;var dx=b[0]-a[0],dy=b[1]-a[1];var s=(k%2?1:-1)*bend;var mx=(a[0]+b[0])/2-dy*s,my=(a[1]+b[1])/2+dx*s;var pa=document.createElementNS(NS,"path");pa.setAttribute("d","M"+a[0]+" "+a[1]+"Q"+mx.toFixed(1)+" "+my.toFixed(1)+" "+b[0]+" "+b[1]);pa.setAttribute("class",cls);g.appendChild(pa);});}
draw(B,"eb",0.12);draw(R,"er",0.12);
})();
</script>
<svg style="position:absolute;left:0;top:0" width="4185" height="2008" viewBox="0 0 4185 2008" xmlns="http://www.w3.org/2000/svg" font-family="Liberation Serif, serif">
<text x="945" y="80">TIMELESS</text>
<text x="758" y="123">CEBPD</text>
<text x="591" y="206">NR4A3</text>
<text x="887" y="244">MAFK</text>
<text x="727" y="308">VDR</text>
<text x="464" y="303">FOSL2</text>
<text x="344" y="418">FOSB</text>
<text x="940" y="399">ARNTL2</text>
<text x="573" y="428">TIPIN</text>
<text x="752" y="478">JUNB</text>
<text x="233" y="549">MAFF</text>
<text x="458" y="548">ATF3</text>
<text x="920" y="554">JDP2</text>
<text x="630" y="612">NR4A1</text>
<text x="345" y="684">ARNT2</text>
<text x="796" y="684">FOS</text>
<text x="504" y="733">IFRD1</text>
<text x="170" y="724">RFX2</text>
<text x="671" y="805">PRRX1</text>
<text x="369" y="853">EPAS1</text>
<text x="127" y="882">NFKBIL1</text>
<text x="866" y="861">CREBBP</text>
<text x="534" y="920">GTF3C6</text>
<text x="250" y="970">NUPR1</text>
<text x="742" y="970">LMX1A</text>
<text x="986" y="710">GTF2H3</text>
<text x="1156" y="65">CALCOCO1</text>
<text x="1333" y="123">HOXD1</text>
<text x="1485" y="186">SLC9A3R2</text>
<text x="1067" y="222">HSF4</text>
<text x="1632" y="269">YEATS4</text>
<text x="1240" y="271">PER2</text>
<text x="1398" y="342">TEF</text>
<text x="1114" y="396">PER1</text>
<text x="1766" y="381">IRX3</text>
<text x="1549" y="423">FOXS1</text>
<text x="1277" y="469">ETV4</text>
<text x="1097" y="565">BHLHE41</text>
<text x="1435" y="553">TCEA3</text>
<text x="1688" y="530">EBF2</text>
<text x="1871" y="530">ZHX3</text>
<text x="1277" y="646">IRF1</text>
<text x="1584" y="657">SAP25</text>
<text x="1772" y="693">ETV1</text>
<text x="1935" y="688">AXIN2</text>
<text x="1440" y="744">SMARCC2</text>
<text x="1157" y="755">DBP</text>
<text x="1641" y="825">DLX3</text>
<text x="1306" y="848">IRF8</text>
<text x="1823" y="859">ARID5B</text>
<text x="1995" y="855">SMAD7</text>
<text x="1031" y="883">ETV7</text>
<text x="1488" y="919">MAMSTR</text>
<text x="1167" y="970">IRF4</text>
<text x="1659" y="990">RGS18</text>
<text x="2000" y="1018">SMAD6</text>
<text x="948" y="1042">IL18</text>
<text x="1337" y="1034">GATA3</text>
<text x="1832" y="1037">RCOR2</text>
<text x="1486" y="1111">RUNX3</text>
<text x="1675" y="1151">DEDD2</text>
<text x="1115" y="1135">HES4</text>
<text x="1274" y="1192">TBX21</text>
<text x="964" y="1211">ETS2</text>
<text x="1833" y="1224">RGS14</text>
<text x="1990" y="1196">GATA2</text>
<text x="1421" y="1266">TRNP1</text>
<text x="1600" y="1291">TAL1</text>
<text x="1135" y="1316">PKIA</text>
<text x="961" y="1390">FOXO4</text>
<text x="1747" y="1380">MYOCD</text>
<text x="1942" y="1374">NFIB</text>
<text x="1282" y="1408">SNRPD1</text>
<text x="1477" y="1424">HLF</text>
<text x="1099" y="1486">HDGFL2</text>
<text x="1641" y="1502">RGS1</text>
<text x="1855" y="1528">TBX5</text>
<text x="1378" y="1563">TP53INP1</text>
<text x="1009" y="1633">SAT1</text>
<text x="1212" y="1606">HES6</text>
<text x="1531" y="1635">MESP1</text>
<text x="1743" y="1656">PRRX2</text>
<text x="1346" y="1740">TBX6</text>
<text x="1165" y="1774">GSC</text>
<text x="996" y="1799">SAFB2</text>
<text x="1618" y="1776">CENPU</text>
<text x="1467" y="1849">ETV5</text>
<text x="1297" y="1919">AFF1</text>
<text x="1119" y="1948">ELL2</text>
<text x="927" y="1944">MEOX1</text>
<text x="105" y="1084">THRSP</text>
<text x="417" y="1054">VEGFA</text>
<text x="604" y="1087">GNPNAT1</text>
<text x="794" y="1130">FOXO1</text>
<text x="281" y="1157">TFCP2L1</text>
<text x="471" y="1221">ASF1B</text>
<text x="144" y="1277">TCF19</text>
<text x="652" y="1254">FOXO3</text>
<text x="329" y="1323">RBL1</text>
<text x="804" y="1318">E2F1</text>
<text x="553" y="1388">TICRR</text>
<text x="222" y="1459">CHAF1A</text>
<text x="413" y="1477">E2F8</text>
<text x="716" y="1463">IGF1</text>
<text x="851" y="1546">POU6F1</text>
<text x="563" y="1574">TFEB</text>
<text x="334" y="1619">FOXM1</text>
<text x="700" y="1656">NR5A2</text>
<text x="465" y="1727">PCLAF</text>
<text x="834" y="1740">MDFI</text>
<text x="604" y="1817">LIF</text>
<text x="752" y="1895">HEY1</text>
<text x="2860" y="105">MT1A</text>
<text x="3009" y="96">GPC5</text>
<text x="2753" y="163">ENTPD1</text>
<text x="2632" y="217">GDF10</text>
<text x="2913" y="230">TMPRSS6</text>
<text x="3040" y="251">RFFL</text>
<text x="2518" y="303">SH3BGRL2</text>
<text x="2781" y="299">INHBB</text>
<text x="2663" y="352">SERPINB11</text>
<text x="2902" y="370">ISM1</text>
<text x="2414" y="395">SPINK9</text>
<text x="2569" y="440">GDF5</text>
<text x="2778" y="447">BMP4</text>
<text x="2910" y="496">BMP6</text>
<text x="2327" y="518">CYTIP</text>
<text x="2467" y="520">NBL1</text>
<text x="2676" y="526">BMP2</text>
<text x="2811" y="598">CILP2</text>
<text x="2566" y="611">FBLN7</text>
<text x="2940" y="643">CCL26</text>
<text x="2265" y="639">VEGFB</text>
<text x="2417" y="650">COMP</text>
<text x="2690" y="666">BMP7</text>
<text x="2822" y="736">TGFB2</text>
<text x="2514" y="741">CTF1</text>
<text x="2219" y="771">VIT</text>
<text x="2343" y="765">HTRA3</text>
<text x="2962" y="776">WWP2</text>
<text x="2644" y="784">LTBP4</text>
<text x="2756" y="848">SPP1</text>
<text x="2436" y="858">THBS4</text>
<text x="2886" y="890">GZMB</text>
<text x="2561" y="895">TINAGL1</text>
<text x="2188" y="899">MAMDC2</text>
<text x="2316" y="935">AMBN</text>
<text x="2687" y="957">THBS1</text>
<text x="2833" y="999">IL15</text>
<text x="2434" y="995">STC1</text>
<text x="2993" y="984">CCL5</text>
<text x="2182" y="1049">LYSMD2</text>
<text x="2562" y="1049">PARD6A</text>
<text x="2305" y="1074">FANCC</text>
<text x="2701" y="1090">CCL19</text>
<text x="2441" y="1132">GDF15</text>
<text x="2830" y="1125">BCL2L11</text>
<text x="2962" y="1113">MT4</text>
<text x="2197" y="1183">MMP28</text>
<text x="2595" y="1170">CCL4</text>
<text x="2331" y="1217">FKBP7</text>
<text x="2740" y="1231">EDN1</text>
<text x="2485" y="1259">PLAT</text>
<text x="2881" y="1255">GZMA</text>
<text x="2623" y="1309">CCN1</text>
<text x="2233" y="1324">LSM1</text>
<text x="2375" y="1346">UBL7</text>
<text x="2764" y="1366">CTSH</text>
<text x="2899" y="1391">C1QB</text>
<text x="2522" y="1398">P3H4</text>
<text x="2288" y="1462">PELI3</text>
<text x="2654" y="1458">APLN</text>
<text x="2421" y="1483">LIN7B</text>
<text x="2813" y="1497">MASP2</text>
<text x="2962" y="1516">C1QA</text>
<text x="3025" y="1349">MASP1</text>
<text x="2546" y="1548">CTSW</text>
<text x="2380" y="1599">SLPI</text>
<text x="2712" y="1580">ADM</text>
<text x="2859" y="1618">AGT</text>
<text x="2613" y="1663">ESM1</text>
<text x="2478" y="1690">CLEC3B</text>
<text x="2987" y="1676">FIGNL1</text>
<text x="2749" y="1721">LNX1</text>
<text x="2874" y="1775">WNT2</text>
<text x="2588" y="1788">CLPSL2</text>
<text x="3006" y="1817">PCMTD2</text>
<text x="2705" y="1849">SH3RF2</text>
<text x="2825" y="1897">DDIT4</text>
<text x="2947" y="1939">MID1IP1</text>
<text x="3135" y="70">SNTB2</text>
<text x="3277" y="83">RINL</text>
<text x="3417" y="121">FIGN</text>
<text x="3542" y="169">C9</text>
<text x="3170" y="201">MAB21L3</text>
<text x="3308" y="217">SYNPO2</text>
<text x="3658" y="233">GFRA1</text>
<text x="3442" y="269">COL8A2</text>
<text x="3181" y="326">COL8A1</text>
<text x="3317" y="349">GZMM</text>
<text x="3767" y="310">KAZALD1</text>
<text x="3584" y="339">BBS12</text>
<text x="3457" y="402">TYSND1</text>
<text x="3860" y="410">COX19</text>
<text x="3702" y="426">USP43</text>
<text x="3028" y="387">SPON2</text>
<text x="3144" y="448">JCHAIN</text>
<text x="3284" y="470">C1QL3</text>
<text x="3582" y="480">UCHL1</text>
<text x="3420" y="518">SERPINH1</text>
<text x="3936" y="515">SDF2L1</text>
<text x="3038" y="540">LOXL4</text>
<text x="3174" y="586">LOXL1</text>
<text x="3325" y="608">SLC25A28</text>
<text x="4001" y="627">FKBP14</text>
<text x="3074" y="694">FBLN5</text>
<text x="3227" y="699">IDE</text>
<text x="3435" y="709">USP13</text>
<text x="4026" y="744">PAPPA2</text>
<text x="3314" y="790">MAGIX</text>
<text x="3159" y="816">LY6G6D</text>
<text x="3442" y="845">G2E3</text>
<text x="3822" y="880">CRYAB</text>
<text x="3957" y="890">RNF223</text>
<text x="4085" y="861">PRCD</text>
<text x="3052" y="870">ELN</text>
<text x="3154" y="973">GPX3</text>
<text x="3391" y="963">PSMB8</text>
<text x="3531" y="979">FKBP5</text>
<text x="3663" y="966">UBD</text>
<text x="4065" y="986">NOXO1</text>
<text x="3783" y="1017">USP18</text>
<text x="3923" y="1022">ATP23</text>
<text x="3277" y="1071">B2M</text>
<text x="3117" y="1106">SERPING1</text>
<text x="3434" y="1087">PRDX1</text>
<text x="3577" y="1101">SKP2</text>
<text x="3700" y="1132">PSMB9</text>
<text x="3837" y="1100">TIMM8A</text>
<text x="3969" y="1172">NXPH2</text>
<text x="4091" y="1116">RNF19B</text>
<text x="3041" y="1212">CTSS</text>
<text x="3213" y="1196">CTSD</text>
<text x="3361" y="1193">CST3</text>
<text x="3505" y="1225">MAB21L1</text>
<text x="3643" y="1247">UBE2C</text>
<text x="3781" y="1279">DEFB1</text>
<text x="3920" y="1282">GIPC3</text>
<text x="4065" y="1263">MYLIP</text>
<text x="3152" y="1298">GPX8</text>
<text x="3310" y="1311">PGLYRP2</text>
<text x="3446" y="1343">PCSK9</text>
<text x="3579" y="1362">ATAD2</text>
<text x="3715" y="1401">SERPINB9</text>
<text x="3851" y="1426">EGLN3</text>
<text x="4006" y="1391">SLA2</text>
<text x="3213" y="1419">CFD</text>
<text x="3347" y="1444">PLK4</text>
<text x="3085" y="1452">CST7</text>
<text x="3487" y="1479">ESPL1</text>
<text x="3627" y="1508">ENTPD6</text>
<text x="3943" y="1508">MMP16</text>
<text x="3770" y="1546">NRIP3</text>
<text x="3220" y="1554">CTSF</text>
<text x="3367" y="1574">RAD51AP1</text>
<text x="3085" y="1583">CTSZ</text>
<text x="3876" y="1615">FUT1</text>
<text x="3512" y="1612">PLIN1</text>
<text x="3660" y="1638">SPSB4</text>
<text x="3122" y="1718">LRATD2</text>
<text x="3251" y="1682">DTX3</text>
<text x="3396" y="1700">FBXO5</text>
<text x="3775" y="1703">UCP3</text>
<text x="3553" y="1737">UCP2</text>
<text x="3684" y="1788">CISH</text>
<text x="3291" y="1811">CHTF18</text>
<text x="3434" y="1823">KEL</text>
<text x="3155" y="1842">SPOCK2</text>
<text x="3559" y="1878">GADD45G</text>
<text x="3375" y="1935">GADD45B</text>
<text x="3233" y="1955">FSCN1</text>
<text x="3083" y="1958">WNT5B</text>
<text x="3779" y="538">HSPB8</text>
<text x="3524" y="607">HSPD1</text>
<text x="3662" y="598">HSP90B1</text>
<text x="3848" y="639">CCT6A</text>
<text x="3571" y="723">HSPA6</text>
<text x="3722" y="714">HSPA4</text>
<text x="3868" y="758">HSPA1L</text>
<text x="3571" y="845">HSPB1</text>
<text x="3704" y="835">HSPE1</text>
<text x="3267" y="912">CASP3</text>
</svg>
</body></html>
